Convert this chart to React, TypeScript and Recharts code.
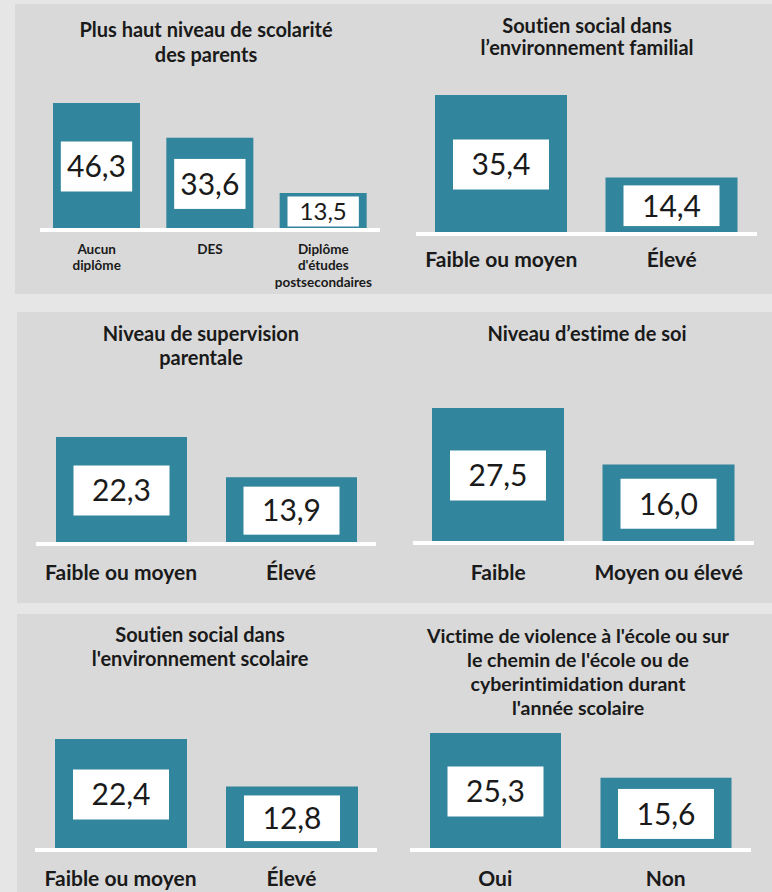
import { BarChart, Bar, XAxis, YAxis, LabelList } from 'recharts';

// Plus haut niveau de scolarité des parents
const eduTitle = ['Plus haut niveau de scolarité', 'des parents'];
const eduCategories = ['Aucun\ndiplôme', 'DES', "Diplôme\nd'études\npostsecondaires"];
const eduValues = [46.3, 33.6, 13.5];

// Soutien social dans l'environnement familial
const familyTitle = ['Soutien social dans', 'l’environnement familial'];
const familyCategories = ['Faible ou moyen', 'Élevé'];
const familyValues = [35.4, 14.4];

// Niveau de supervision parentale
const supervisionTitle = ['Niveau de supervision', 'parentale'];
const supervisionCategories = ['Faible ou moyen', 'Élevé'];
const supervisionValues = [22.3, 13.9];

// Niveau d'estime de soi
const esteemTitle = ['Niveau d’estime de soi'];
const esteemCategories = ['Faible', 'Moyen ou élevé'];
const esteemValues = [27.5, 16.0];

// Soutien social dans l'environnement scolaire
const schoolTitle = ['Soutien social dans', "l'environnement scolaire"];
const schoolCategories = ['Faible ou moyen', 'Élevé'];
const schoolValues = [22.4, 12.8];

// Victime de violence
const violenceTitle = [
  "Victime de violence à l'école ou sur",
  "le chemin de l'école ou de",
  'cyberintimidation durant',
  "l'année scolaire",
];
const violenceCategories = ['Oui', 'Non'];
const violenceValues = [25.3, 15.6];

const BAR = '#31859c';
const PANEL = '#d9d9d9';
const OUTER = '#e6e6e6';
const INK = '#1a1a1a';
const FONT = 'Lato, "Open Sans", sans-serif';

const fmt = (v: number) => v.toFixed(1).replace('.', ',');

function ValueBox(props: any) {
  const { x, y, width, height, value } = props;
  const boxW = Math.min(width * 0.82, 96);
  const boxH = Math.min(50, Math.max(30, height * 0.72));
  const fs = Math.min(30, boxH * 0.8);
  const cx = x + width / 2;
  const cy = y + height / 2;
  return (
    <g>
      <rect x={cx - boxW / 2} y={cy - boxH / 2} width={boxW} height={boxH} fill="#fff" />
      <text x={cx} y={cy + fs * 0.36} textAnchor="middle" fontFamily={FONT} fontSize={fs} fill={INK}>
        {fmt(Number(value))}
      </text>
    </g>
  );
}

interface PanelChartProps {
  title: string[];
  titleX: number;
  titleY: number;
  titleLineH: number;
  titleFont: number;
  categories: string[];
  values: number[];
  left: number;
  top: number;
  width: number;
  plotH: number;
  barSize: number;
  tickFont: number;
  tickOffset: number;
  tickLineH: number;
}

function PanelChart(p: PanelChartProps) {
  const data = p.categories.map((name, i) => ({ name, value: p.values[i] }));
  const max = Math.max(...p.values);
  const axisH = 80;

  const renderTick = (props: any) => {
    const { x, y, payload } = props;
    const lines = String(payload.value).split('\n');
    return (
      <text
        x={x}
        y={y + p.tickOffset + p.tickFont * 0.36}
        textAnchor="middle"
        fontFamily={FONT}
        fontWeight={700}
        fontSize={p.tickFont}
        fill={INK}
        style={{ fontVariantLigatures: 'none' }}
      >
        {lines.map((l, i) => (
          <tspan key={i} x={x} dy={i === 0 ? 0 : p.tickLineH}>
            {l}
          </tspan>
        ))}
      </text>
    );
  };

  return (
    <>
      <div
        style={{
          position: 'absolute',
          left: p.titleX - 200,
          top: p.titleY - p.titleLineH / 2,
          width: 400,
          textAlign: 'center',
          fontFamily: FONT,
          fontWeight: 700,
          fontSize: p.titleFont,
          lineHeight: `${p.titleLineH}px`,
          color: INK,
          fontVariantLigatures: 'none',
        }}
      >
        {p.title.map((t, i) => (
          <div key={i}>{t}</div>
        ))}
      </div>
      <div style={{ position: 'absolute', left: p.left, top: p.top }}>
        <BarChart
          width={p.width}
          height={p.plotH + axisH}
          data={data}
          margin={{ top: 0, right: 0, bottom: 0, left: 0 }}
          barSize={p.barSize}
        >
          <YAxis hide width={0} domain={[0, max]} />
          <XAxis
            dataKey="name"
            height={axisH}
            axisLine={{ stroke: '#fff', strokeWidth: 4 }}
            tickLine={false}
            tickSize={0}
            tickMargin={0}
            interval={0}
            tick={renderTick}
          />
          <Bar dataKey="value" fill={BAR} isAnimationActive={false}>
            <LabelList dataKey="value" content={ValueBox} />
          </Bar>
        </BarChart>
      </div>
    </>
  );
}

export default function App() {
  return (
    <div
      style={{
        position: 'absolute',
        left: 0,
        top: 0,
        width: 772,
        height: 892,
        background: OUTER,
        overflow: 'hidden',
      }}
    >
      <div style={{ position: 'absolute', left: 15, top: 4, width: 757, height: 290, background: PANEL }} />
      <div style={{ position: 'absolute', left: 17, top: 312, width: 755, height: 291, background: PANEL }} />
      <div style={{ position: 'absolute', left: 17, top: 614, width: 755, height: 278, background: PANEL }} />

      <PanelChart
        title={eduTitle}
        titleX={206}
        titleY={29}
        titleLineH={25}
        titleFont={20}
        categories={eduCategories}
        values={eduValues}
        left={40}
        top={103}
        width={340}
        plotH={127}
        barSize={87}
        tickFont={13.5}
        tickOffset={19}
        tickLineH={16.5}
      />
      <PanelChart
        title={familyTitle}
        titleX={587}
        titleY={25}
        titleLineH={22.5}
        titleFont={20}
        categories={familyCategories}
        values={familyValues}
        left={416}
        top={95}
        width={341}
        plotH={139}
        barSize={132}
        tickFont={21}
        tickOffset={25}
        tickLineH={22}
      />
      <PanelChart
        title={supervisionTitle}
        titleX={201}
        titleY={333}
        titleLineH={24}
        titleFont={20}
        categories={supervisionCategories}
        values={supervisionValues}
        left={36}
        top={437}
        width={340}
        plotH={107}
        barSize={131}
        tickFont={21}
        tickOffset={28}
        tickLineH={22}
      />
      <PanelChart
        title={esteemTitle}
        titleX={587}
        titleY={333}
        titleLineH={24}
        titleFont={20}
        categories={esteemCategories}
        values={esteemValues}
        left={413}
        top={408}
        width={341}
        plotH={135}
        barSize={132}
        tickFont={21}
        tickOffset={29}
        tickLineH={22}
      />
      <PanelChart
        title={schoolTitle}
        titleX={200}
        titleY={634}
        titleLineH={24}
        titleFont={20}
        categories={schoolCategories}
        values={schoolValues}
        left={35}
        top={739}
        width={342}
        plotH={111}
        barSize={132}
        tickFont={21}
        tickOffset={28}
        tickLineH={22}
      />
      <PanelChart
        title={violenceTitle}
        titleX={578}
        titleY={636}
        titleLineH={24}
        titleFont={19.5}
        categories={violenceCategories}
        values={violenceValues}
        left={410}
        top={733}
        width={341}
        plotH={117}
        barSize={131}
        tickFont={21}
        tickOffset={28}
        tickLineH={22}
      />
    </div>
  );
}
